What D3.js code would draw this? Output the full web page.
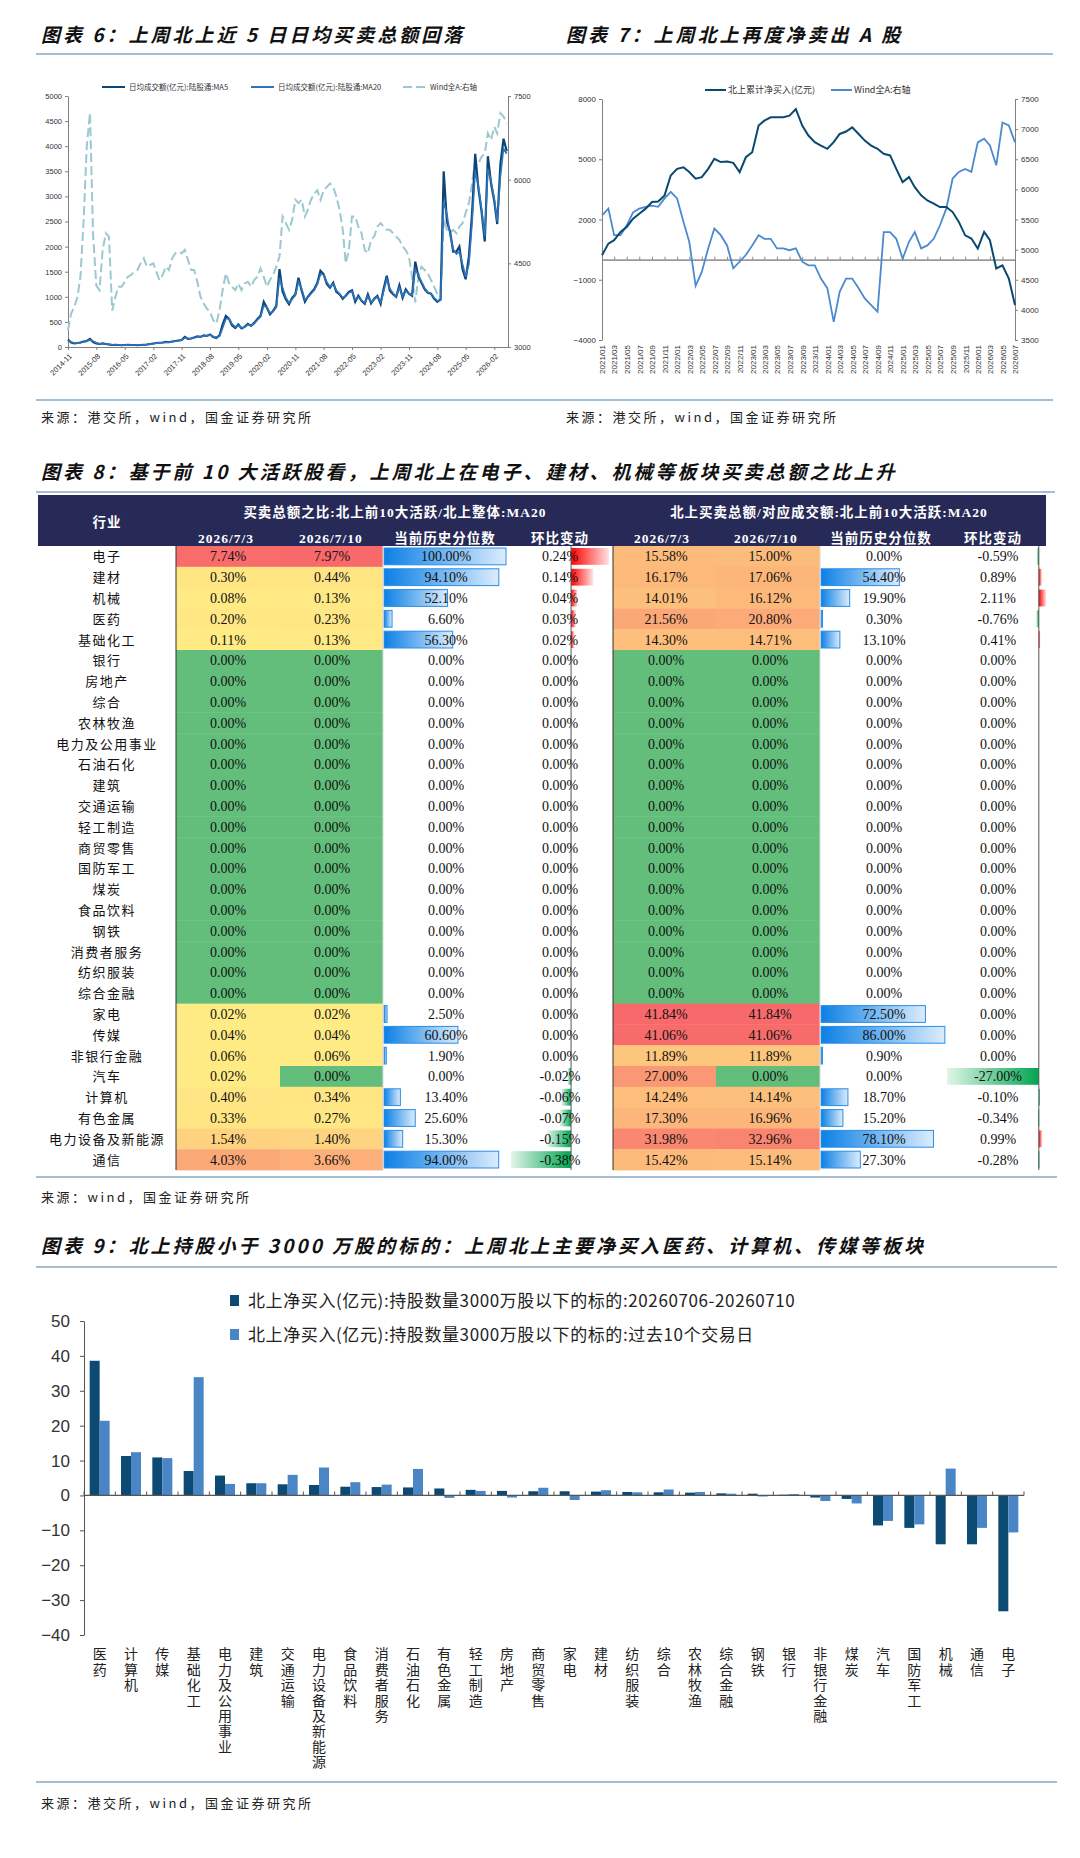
<!DOCTYPE html>
<html>
<head>
<meta charset="utf-8">
<script src="https://cdn.jsdelivr.net/npm/d3@7"></script>
<style>
  body { margin: 0; background: #fff; }
  svg { display: block; font-family: "Liberation Sans", Arial, "Noto Sans CJK SC", sans-serif; }
</style>
</head>
<body>
<div id="page"></div>
<script>
// ---------------- data: chart 6 (monthly, 2014-11 .. 2026-06) ----------------
const ma5 = [
  150, 90, 70, 80, 90, 110, 120, 160, 100, 70,
  60, 70, 60, 50, 40, 45, 40, 35, 40, 45,
  40, 40, 35, 40, 45, 50, 60, 70, 80, 85,
  90, 100, 95, 110, 120, 130, 140, 200, 160, 170,
  190, 210, 200, 230, 220, 250, 200, 180, 230, 450,
  620, 560, 430, 380, 450, 370, 400, 460, 420, 480,
  560, 620, 900, 780, 650, 720, 820, 1550, 1100, 950,
  850, 980, 1050, 1380, 1120, 900, 1000, 1080, 1150, 1280,
  1520, 1450, 1250, 1180, 1280, 1100, 1050, 960, 1020, 1100,
  1130, 900, 1020, 920, 860, 1050, 870, 960, 1020, 860,
  1150, 1420, 1120, 1050, 1000, 1230, 980, 1150, 1060, 1020,
  1700, 1400, 1280, 1150, 1080, 1060, 960, 900, 950, 3500,
  2500, 2300, 1900, 1900, 2000, 1550, 1350, 1800, 2650, 3850,
  3150, 2700, 2100, 3800, 3250, 2900, 2450, 3650, 4150, 3900
];
const ma20 = [
  120, 100, 80, 78, 85, 100, 115, 140, 115, 85,
  65, 65, 60, 52, 45, 44, 40, 37, 38, 42,
  40, 40, 37, 39, 43, 48, 57, 66, 76, 83,
  88, 96, 96, 105, 115, 125, 136, 180, 170, 168,
  185, 205, 203, 222, 222, 240, 210, 188, 215, 380,
  560, 570, 460, 400, 430, 385, 395, 445, 425, 465,
  540, 600, 820, 790, 680, 710, 790, 1380, 1180, 990,
  880, 950, 1030, 1300, 1160, 940, 990, 1060, 1130, 1250,
  1450, 1440, 1290, 1200, 1260, 1130, 1060, 980, 1010, 1080,
  1110, 940, 1000, 930, 880, 1010, 890, 950, 1000, 890,
  1100, 1350, 1160, 1070, 1010, 1180, 1010, 1120, 1060, 1030,
  1550, 1430, 1300, 1170, 1090, 1060, 980, 920, 930, 2900,
  2650, 2250, 1950, 1850, 1900, 1650, 1400, 1650, 2450, 3500,
  3200, 2750, 2200, 3550, 3300, 2950, 2500, 3400, 3950, 3850
];
const windA6 = [
  3300, 3600, 3720, 3900, 4260, 5280, 6600, 7200, 5000, 4100,
  4020, 4740, 5040, 4980, 3650, 3900, 4080, 4080, 4170, 4260,
  4290, 4350, 4380, 4500, 4590, 4440, 4470, 4500, 4350, 4200,
  4290, 4440, 4380, 4590, 4680, 4710, 4680, 4740, 4560, 4380,
  4380, 4170, 3900, 3780, 3690, 3630, 3480, 3420, 3660, 4020,
  4320, 4140, 4080, 4020, 4140, 4020, 4140, 4170, 4080, 4200,
  4260, 4410, 4260, 4080, 4200, 4290, 4440, 4620, 5340, 5220,
  5100, 5280, 5640, 5580, 5640, 5340, 5460, 5640, 5750, 5810,
  5640, 5810, 5870, 5930, 5870, 5700, 5460, 5100, 4500, 4740,
  5340, 5340, 5160, 5040, 4740, 4680, 4920, 4980, 5160, 5220,
  5160, 5100, 5100, 5040, 4980, 4920, 4800, 4740, 4620, 4260,
  3800, 4260, 4440, 4380, 4320, 4200, 4080, 3950, 3950, 5300,
  5100, 5050, 5100, 5040, 5160, 5220, 5400, 5580, 5930, 6350,
  6290, 6410, 6470, 6830, 6710, 6950, 6830, 7190, 7130, 7010
];
const ticks6 = ['2014-11', '2015-08', '2016-05', '2017-02', '2017-11', '2018-08', '2019-05', '2020-02',
  '2020-11', '2021-08', '2022-05', '2023-02', '2023-11', '2024-08', '2025-05', '2026-02'];
const yTicksL6 = [0, 500, 1000, 1500, 2000, 2500, 3000, 3500, 4000, 4500, 5000];
const yTicksR6 = [3000, 4500, 6000, 7500];

// ---------------- data: chart 7 (monthly, 2021-01 .. 2026-07) ----------------
const netBuy7 = [
  220, 800, 970, 1380, 1630, 2040, 2290, 2540, 2870, 2900,
  3200, 4190, 4520, 4600, 4360, 4030, 4110, 4520, 5020, 4860,
  4890, 4820, 4360, 5100, 5350, 6680, 6920, 7090, 7090, 7090,
  7170, 7500, 6680, 6180, 5850, 5680, 5520, 5850, 6260, 6380,
  6590, 6260, 5930, 5680, 5520, 5270, 5190, 4520, 3860, 4110,
  3610, 3200, 2950, 2790, 2620, 2620, 2370, 1880, 1210, 1050,
  550, 1380, 970, -440, -280, -940, -2260
];
const windA7 = [
  5570, 5680, 5240, 5240, 5400, 5620, 5680, 5710, 5730, 5710,
  5850, 5960, 5850, 5460, 5130, 4400, 4630, 5020, 5350, 5240,
  5070, 4690, 4800, 4910, 5070, 5240, 5180, 5180, 5020, 5020,
  4990, 5020, 4800, 4740, 4740, 4520, 4360, 3800, 4300, 4520,
  4520, 4360, 4190, 4080, 3970, 5290, 5290, 5180, 4850, 5130,
  5290, 5020, 5070, 5180, 5400, 5680, 6180, 6290, 6340, 6290,
  6780, 6840, 6730, 6400, 7110, 7060, 6780
];
const yTicksL7 = [-4000, -1000, 2000, 5000, 8000];
const yTicksR7 = [3500, 4000, 4500, 5000, 5500, 6000, 6500, 7000, 7500];

// ---------------- data: chart 8 (table) ----------------
const industries8 = ['电子', '建材', '机械', '医药', '基础化工', '银行', '房地产', '综合', '农林牧渔', '电力及公用事业',
  '石油石化', '建筑', '交通运输', '轻工制造', '商贸零售', '国防军工', '煤炭', '食品饮料', '钢铁', '消费者服务',
  '纺织服装', '综合金融', '家电', '传媒', '非银行金融', '汽车', '计算机', '有色金属', '电力设备及新能源', '通信'];
const ratio0703 = [7.74, 0.30, 0.08, 0.20, 0.11, 0, 0, 0, 0, 0, 0, 0, 0, 0, 0, 0, 0, 0, 0, 0, 0, 0,
  0.02, 0.04, 0.06, 0.02, 0.40, 0.33, 1.54, 4.03];
const ratio0710 = [7.97, 0.44, 0.13, 0.23, 0.13, 0, 0, 0, 0, 0, 0, 0, 0, 0, 0, 0, 0, 0, 0, 0, 0, 0,
  0.02, 0.04, 0.06, 0.00, 0.34, 0.27, 1.40, 3.66];
const ratioPct = [100.00, 94.10, 52.10, 6.60, 56.30, 0, 0, 0, 0, 0, 0, 0, 0, 0, 0, 0, 0, 0, 0, 0, 0, 0,
  2.50, 60.60, 1.90, 0.00, 13.40, 25.60, 15.30, 94.00];
const ratioChg = [0.24, 0.14, 0.04, 0.03, 0.02, 0, 0, 0, 0, 0, 0, 0, 0, 0, 0, 0, 0, 0, 0, 0, 0, 0,
  0.00, 0.00, 0.00, -0.02, -0.06, -0.07, -0.15, -0.38];
const share0703 = [15.58, 16.17, 14.01, 21.56, 14.30, 0, 0, 0, 0, 0, 0, 0, 0, 0, 0, 0, 0, 0, 0, 0, 0, 0,
  41.84, 41.06, 11.89, 27.00, 14.24, 17.30, 31.98, 15.42];
const share0710 = [15.00, 17.06, 16.12, 20.80, 14.71, 0, 0, 0, 0, 0, 0, 0, 0, 0, 0, 0, 0, 0, 0, 0, 0, 0,
  41.84, 41.06, 11.89, 0.00, 14.14, 16.96, 32.96, 15.14];
const sharePct = [0.00, 54.40, 19.90, 0.30, 13.10, 0, 0, 0, 0, 0, 0, 0, 0, 0, 0, 0, 0, 0, 0, 0, 0, 0,
  72.50, 86.00, 0.90, 0.00, 18.70, 15.20, 78.10, 27.30];
const shareChg = [-0.59, 0.89, 2.11, -0.76, 0.41, 0, 0, 0, 0, 0, 0, 0, 0, 0, 0, 0, 0, 0, 0, 0, 0, 0,
  0.00, 0.00, 0.00, -27.00, -0.10, -0.34, 0.99, -0.28];
const headDates8 = ['2026/7/3', '2026/7/10', '当前历史分位数', '环比变动'];

// ---------------- data: chart 9 ----------------
const cats9 = ['医药', '计算机', '传媒', '基础化工', '电力及公用事业', '建筑', '交通运输', '电力设备及新能源', '食品饮料', '消费者服务',
  '石油石化', '有色金属', '轻工制造', '房地产', '商贸零售', '家电', '建材', '纺织服装', '综合', '农林牧渔',
  '综合金融', '钢铁', '银行', '非银行金融', '煤炭', '汽车', '国防军工', '机械', '通信', '电子'];
const week9 = [38.6, 11.3, 10.9, 7.0, 5.7, 3.5, 3.2, 3.0, 2.5, 2.4,
  2.3, 2.0, 1.6, 1.3, 1.2, 1.2, 1.1, 1.0, 0.9, 0.8,
  0.6, 0.5, 0.2, -0.6, -1.0, -8.6, -9.3, -14.0, -14.0, -33.2];
const tenDay9 = [21.4, 12.4, 10.7, 33.9, 3.3, 3.5, 5.9, 8.0, 3.8, 3.1,
  7.6, -0.7, 1.3, -0.6, 2.2, -1.3, 1.5, 0.9, 1.7, 1.0,
  0.5, -0.3, 0.4, -1.6, -2.3, -7.3, -8.3, 7.7, -9.3, -10.6];
const yTicks9 = [-40, -30, -20, -10, 0, 10, 20, 30, 40, 50];

// ---------------- page ----------------
const W = 1080, H = 1858;
const cjk = '"Noto Sans CJK SC", sans-serif';
const ruleColor = '#86a9c4';
const axisColor = '#808080';

const svg = d3.select('#page').append('svg')
  .attr('width', W)
  .attr('height', H);

const defs = svg.append('defs');
function grad(id, c0, c1) {
  const g = defs.append('linearGradient').attr('id', id).attr('x1', 0).attr('x2', 1).attr('y1', 0).attr('y2', 0);
  g.append('stop').attr('offset', 0).attr('stop-color', c0);
  g.append('stop').attr('offset', 1).attr('stop-color', c1);
}
grad('barBlue', '#0b80e6', '#dcecfc');
grad('barRed', '#ff0000', '#ffe2e2');
grad('barGreen', '#e2f5e8', '#00a550');

function title(txt, x, y) {
  svg.append('text').attr('x', x).attr('y', y)
    .attr('font-family', cjk).attr('font-size', 19).attr('font-weight', 700)
    .attr('font-style', 'italic').attr('letter-spacing', 3).attr('fill', '#111')
    .text(txt);
}
function rule(x1, x2, y) {
  svg.append('line').attr('x1', x1).attr('x2', x2).attr('y1', y).attr('y2', y)
    .attr('stroke', ruleColor).attr('stroke-width', 1.5);
}
function source(txt, x, y) {
  svg.append('text').attr('x', x).attr('y', y)
    .attr('font-family', cjk).attr('font-size', 13).attr('letter-spacing', 2.5).attr('fill', '#222')
    .text(txt);
}
function styleAxis(g, size) {
  g.select('.domain').attr('stroke', axisColor);
  g.selectAll('.tick line').attr('stroke', axisColor);
  g.selectAll('.tick text').attr('fill', '#333').attr('font-size', size)
    .attr('font-family', '"Liberation Sans", Arial, sans-serif');
}

// ================= chart 6 =================
title('图表 6：上周北上近 5 日日均买卖总额回落', 41, 42);
title('图表 7：上周北上再度净卖出 A 股', 566, 42);
rule(36, 1053, 54);
rule(36, 1053, 400);
source('来源：港交所，wind，国金证券研究所', 41, 422);
source('来源：港交所，wind，国金证券研究所', 566, 422);

const parseM = d3.timeParse('%Y-%m');
const fmtM = d3.timeFormat('%Y-%m');
const months6 = d3.timeMonth.range(new Date(2014, 10, 1), new Date(2026, 6, 1));
const x6 = d3.scaleTime().domain([new Date(2014, 10, 1), new Date(2026, 5, 13)]).range([68, 508]);
const yL6 = d3.scaleLinear().domain([0, 5000]).range([347, 96]);
const yR6 = d3.scaleLinear().domain([3000, 7500]).range([347, 96]);

const g6 = svg.append('g');
g6.append('g').attr('transform', 'translate(0,347)')
  .call(d3.axisBottom(x6).tickValues(ticks6.map(parseM)).tickFormat(fmtM).tickSize(3).tickSizeOuter(0))
  .call(g => styleAxis(g, 7.5))
  .call(g => g.selectAll('.tick text')
    .attr('x', 0).attr('y', 0).attr('dy', '0.35em')
    .attr('text-anchor', 'end')
    .attr('transform', 'translate(2,8) rotate(-45)'));
g6.append('g').attr('transform', 'translate(68,0)')
  .call(d3.axisLeft(yL6).tickValues(yTicksL6).tickSize(3).tickSizeOuter(0).tickFormat(d3.format('d')))
  .call(g => styleAxis(g, 7.5));
g6.append('g').attr('transform', 'translate(508,0)')
  .call(d3.axisRight(yR6).tickValues(yTicksR6).tickSize(3).tickSizeOuter(0).tickFormat(d3.format('d')))
  .call(g => styleAxis(g, 7.5));

const line6L = d3.line().x((d, i) => x6(months6[i])).y(d => yL6(d));
const line6R = d3.line().x((d, i) => x6(months6[i])).y(d => yR6(d));
g6.append('path').datum(windA6).attr('d', line6R).attr('fill', 'none')
  .attr('stroke', '#9cc8d1').attr('stroke-width', 2).attr('stroke-dasharray', '9,4');
g6.append('path').datum(ma5).attr('d', line6L).attr('fill', 'none')
  .attr('stroke', '#0d4577').attr('stroke-width', 2.2);
g6.append('path').datum(ma20).attr('d', line6L).attr('fill', 'none')
  .attr('stroke', '#2e74bb').attr('stroke-width', 1.6);

const leg6 = [
  { label: '日均成交额(亿元):陆股通:MA5', x: 102, color: '#0d4577', dash: null },
  { label: '日均成交额(亿元):陆股通:MA20', x: 251, color: '#2e74bb', dash: null },
  { label: 'Wind全A:右轴', x: 403, color: '#9cc8d1', dash: '9,4' }
];
const lg6 = g6.selectAll('.leg6').data(leg6).join('g').attr('class', 'leg6')
  .attr('transform', d => `translate(${d.x},87)`);
lg6.append('line').attr('x1', 0).attr('x2', 23).attr('stroke', d => d.color).attr('stroke-width', 2)
  .attr('stroke-dasharray', d => d.dash);
lg6.append('text').attr('x', 27).attr('dy', '0.35em').attr('font-size', 7.5).attr('fill', '#333')
  .attr('font-family', cjk).text(d => d.label);

// ================= chart 7 =================
const months7 = d3.timeMonth.range(new Date(2021, 0, 1), new Date(2026, 7, 1));
const x7 = d3.scaleTime().domain([new Date(2021, 0, 1), new Date(2026, 6, 1)]).range([602, 1015]);
const yL7 = d3.scaleLinear().domain([-4000, 8000]).range([340, 99]);
const yR7 = d3.scaleLinear().domain([3500, 7500]).range([340, 99]);
const fmtM7 = d3.timeFormat('%Y/%m');
const ticks7 = months7.filter((d, i) => i % 2 === 0);

const g7 = svg.append('g');
g7.append('g').attr('transform', `translate(0,${yL7(0)})`)
  .call(d3.axisBottom(x7).tickValues(ticks7).tickFormat('').tickSize(-3).tickSizeOuter(0))
  .call(g => g.select('.domain').attr('stroke', '#9a9a9a').attr('stroke-width', 1.6))
  .call(g => g.selectAll('.tick line').attr('stroke', '#8a8a8a'));
g7.append('g').attr('transform', 'translate(0,340)')
  .call(d3.axisBottom(x7).tickValues(ticks7).tickFormat(fmtM7).tickSize(0).tickSizeOuter(0))
  .call(g => styleAxis(g, 8))
  .call(g => g.select('.domain').remove())
  .call(g => g.selectAll('.tick text')
    .attr('x', 0).attr('y', 0).attr('dy', '0.35em')
    .attr('text-anchor', 'end')
    .attr('transform', 'translate(0,5) rotate(-90)'));
g7.append('g').attr('transform', 'translate(602,0)')
  .call(d3.axisLeft(yL7).tickValues(yTicksL7).tickSize(3).tickSizeOuter(0).tickFormat(d3.format('d')))
  .call(g => styleAxis(g, 8));
g7.append('g').attr('transform', 'translate(1015,0)')
  .call(d3.axisRight(yR7).tickValues(yTicksR7).tickSize(3).tickSizeOuter(0).tickFormat(d3.format('d')))
  .call(g => styleAxis(g, 8));

const line7L = d3.line().x((d, i) => x7(months7[i])).y(d => yL7(d));
const line7R = d3.line().x((d, i) => x7(months7[i])).y(d => yR7(d));
g7.append('path').datum(windA7).attr('d', line7R).attr('fill', 'none')
  .attr('stroke', '#4b8ad0').attr('stroke-width', 1.8);
g7.append('path').datum(netBuy7).attr('d', line7L).attr('fill', 'none')
  .attr('stroke', '#0b4a70').attr('stroke-width', 2);

const leg7 = [
  { label: '北上累计净买入(亿元)', x: 705, color: '#0b4a70' },
  { label: 'Wind全A:右轴', x: 831, color: '#4b8ad0' }
];
const lg7 = g7.selectAll('.leg7').data(leg7).join('g').attr('class', 'leg7')
  .attr('transform', d => `translate(${d.x},90)`);
lg7.append('line').attr('x1', 0).attr('x2', 21).attr('stroke', d => d.color).attr('stroke-width', 2);
lg7.append('text').attr('x', 23).attr('dy', '0.35em').attr('font-size', 9).attr('fill', '#333')
  .attr('font-family', cjk).text(d => d.label);

// ================= chart 8 (table) =================
title('图表 8：基于前 10 大活跃股看，上周北上在电子、建材、机械等板块买卖总额之比上升', 41, 479);
rule(36, 1055, 492);
rule(36, 1057, 1177);
source('来源：wind，国金证券研究所', 41, 1202);

const headTop = 495, headBot = 546, rowH = 20.8, tblL = 38, tblR = 1046;
const tbl = svg.append('g');
tbl.append('rect').attr('x', tblL).attr('y', headTop).attr('width', tblR - tblL).attr('height', headBot - headTop)
  .attr('fill', '#272a57');
const headTxt = (txt, x, y) => tbl.append('text').attr('x', x).attr('y', y).attr('text-anchor', 'middle')
  .attr('font-family', '"Liberation Serif", ' + cjk).attr('font-weight', 700).attr('font-size', 13.5)
  .attr('fill', '#fff').attr('letter-spacing', 1).text(txt);
headTxt('行业', 107, 527);
headTxt('买卖总额之比:北上前10大活跃/北上整体:MA20', 395, 517);
headTxt('北上买卖总额/对应成交额:北上前10大活跃:MA20', 829, 517);
const headX1 = [226, 331, 445, 560], headX2 = [662, 766, 881, 993];
headDates8.forEach((t, i) => { headTxt(t, headX1[i], 543); headTxt(t, headX2[i], 543); });

const rowTop = i => headBot + i * rowH;
const col1 = d3.scaleLinear().domain([0, 0.02, d3.max(ratio0703.concat(ratio0710))])
  .range(['#63be7b', '#ffeb84', '#f8696b']);
const col2 = d3.scaleLinear().domain([0, 0.02, d3.max(share0703.concat(share0710))])
  .range(['#63be7b', '#ffeb84', '#f8696b']);
const pct1 = d3.scaleLinear().domain([0, 100]).range([0, 122]);
const pct2 = d3.scaleLinear().domain([0, 100]).range([0, 144]);
const chg1 = d3.scaleLinear().domain(d3.extent(ratioChg)).range([511, 609]);
const chg2 = d3.scaleLinear().domain(d3.extent(shareChg)).range([947, 1046]);

const fmtP = v => v.toFixed(2) + '%';
const cellColumns = [
  { vals: ratio0703, x: 176, w: 104, color: col1 },
  { vals: ratio0710, x: 280, w: 103, color: col1 },
  { vals: share0703, x: 613, w: 103, color: col2 },
  { vals: share0710, x: 716, w: 104, color: col2 }
];
cellColumns.forEach(c => {
  tbl.append('g').selectAll('rect').data(c.vals).join('rect')
    .attr('x', c.x).attr('y', (d, i) => rowTop(i)).attr('width', c.w).attr('height', rowH + 0.4)
    .attr('fill', d => c.color(d));
});

// percentile data bars
[{ vals: ratioPct, x0: 384, s: pct1 }, { vals: sharePct, x0: 821, s: pct2 }].forEach(c => {
  tbl.append('g').selectAll('rect').data(c.vals.map((v, i) => ({ v, i })).filter(d => d.v > 0)).join('rect')
    .attr('x', c.x0).attr('y', d => rowTop(d.i) + 2).attr('height', rowH - 4)
    .attr('width', d => Math.max(1.5, c.s(d.v)))
    .attr('fill', 'url(#barBlue)').attr('stroke', '#2a8de6').attr('stroke-width', 1);
});
// change data bars
[{ vals: ratioChg, s: chg1 }, { vals: shareChg, s: chg2 }].forEach(c => {
  tbl.append('g').selectAll('rect').data(c.vals.map((v, i) => ({ v, i })).filter(d => d.v !== 0)).join('rect')
    .attr('x', d => Math.min(c.s(d.v), c.s(0))).attr('y', d => rowTop(d.i) + 2).attr('height', rowH - 4)
    .attr('width', d => Math.max(1.5, Math.abs(c.s(d.v) - c.s(0))))
    .attr('fill', d => d.v > 0 ? 'url(#barRed)' : 'url(#barGreen)');
});

// vertical separators
[[176, '#333'], [613, '#333'], [chg1(0), '#555'], [chg2(0), '#555'], [383, '#dadada'], [820, '#dadada']]
  .forEach(([x, c]) => tbl.append('line').attr('x1', x).attr('x2', x).attr('y1', headBot).attr('y2', headBot + 30 * rowH)
    .attr('stroke', c).attr('stroke-width', 1));

// texts
tbl.append('g').selectAll('text').data(industries8).join('text')
  .attr('x', 107).attr('y', (d, i) => rowTop(i) + rowH / 2 + 5).attr('text-anchor', 'middle')
  .attr('font-family', cjk).attr('font-size', 13).attr('letter-spacing', 1.5).attr('fill', '#111').text(d => d);
const textColumns = [
  [ratio0703, 228], [ratio0710, 332], [ratioPct, 446], [ratioChg, 560],
  [share0703, 666], [share0710, 770], [sharePct, 884], [shareChg, 998]
];
textColumns.forEach(([vals, x]) => {
  tbl.append('g').selectAll('text').data(vals).join('text')
    .attr('x', x).attr('y', (d, i) => rowTop(i) + rowH / 2 + 5).attr('text-anchor', 'middle')
    .attr('font-family', '"Liberation Serif", serif').attr('font-size', 14).attr('fill', '#111')
    .text(d => fmtP(d));
});

// ================= chart 9 =================
title('图表 9：北上持股小于 3000 万股的标的：上周北上主要净买入医药、计算机、传媒等板块', 41, 1253);
rule(36, 1057, 1267);
rule(36, 1057, 1782);
source('来源：港交所，wind，国金证券研究所', 41, 1808);

const x9 = d3.scaleBand().domain(cats9).range([84, 1024]);
const y9 = d3.scaleLinear().domain([-40, 50]).range([1635, 1321]);
const g9 = svg.append('g');
const dark9 = '#0c4a73', light9 = '#4a86c6';

g9.append('g').attr('transform', 'translate(84,0)')
  .call(d3.axisLeft(y9).tickValues(yTicks9).tickSize(4).tickPadding(10).tickSizeOuter(0))
  .call(g => styleAxis(g, 17))
  .call(g => g.select('.domain').attr('stroke', '#555'))
  .call(g => g.selectAll('.tick line').attr('stroke', '#555'));

const bw = 10;
g9.append('g').selectAll('rect').data(week9).join('rect')
  .attr('x', (d, i) => x9(cats9[i]) + x9.bandwidth() / 2 - bw)
  .attr('y', d => y9(Math.max(0, d))).attr('width', bw)
  .attr('height', d => Math.abs(y9(d) - y9(0))).attr('fill', dark9);
g9.append('g').selectAll('rect').data(tenDay9).join('rect')
  .attr('x', (d, i) => x9(cats9[i]) + x9.bandwidth() / 2)
  .attr('y', d => y9(Math.max(0, d))).attr('width', bw)
  .attr('height', d => Math.abs(y9(d) - y9(0))).attr('fill', light9);

// zero axis with boundary ticks
g9.append('line').attr('x1', 84).attr('x2', 1024).attr('y1', y9(0)).attr('y2', y9(0))
  .attr('stroke', '#555').attr('stroke-width', 1.2);
g9.append('g').selectAll('line').data(d3.range(cats9.length + 1)).join('line')
  .attr('x1', i => 84 + i * x9.step()).attr('x2', i => 84 + i * x9.step())
  .attr('y1', y9(0)).attr('y2', y9(0) - 4).attr('stroke', '#555');

// vertical category labels (vertical writing mode, one text per category)
g9.append('g').selectAll('text').data(cats9).join('text')
  .attr('x', d => x9(d) + x9.bandwidth() / 2)
  .attr('y', 1647)
  .style('writing-mode', 'vertical-rl')
  .style('text-orientation', 'upright')
  .attr('font-family', cjk).attr('font-size', 14).attr('letter-spacing', 1.4).attr('fill', '#222')
  .text(d => d);

const leg9 = [
  { label: '北上净买入(亿元):持股数量3000万股以下的标的:20260706-20260710', y: 1301, color: dark9 },
  { label: '北上净买入(亿元):持股数量3000万股以下的标的:过去10个交易日', y: 1335, color: light9 }
];
const lg9 = g9.selectAll('.leg9').data(leg9).join('g').attr('class', 'leg9')
  .attr('transform', d => `translate(230,${d.y})`);
lg9.append('rect').attr('x', 0).attr('y', -6).attr('width', 9).attr('height', 11).attr('fill', d => d.color);
lg9.append('text').attr('x', 18).attr('dy', '0.36em').attr('font-family', cjk).attr('font-size', 17)
  .attr('letter-spacing', 0.6).attr('fill', '#222').text(d => d.label);
</script>
</body>
</html>
